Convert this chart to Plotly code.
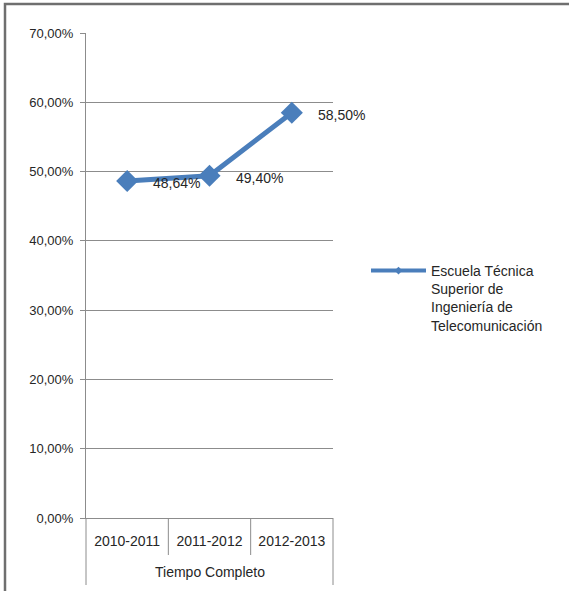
import plotly.graph_objects as go

categories = ["2010-2011", "2011-2012", "2012-2013"]
values = [0.4864, 0.4940, 0.5850]
labels = ["48,64%", "49,40%", "58,50%"]
group_label = "Tiempo Completo"
series_name = "Escuela Técnica<br>Superior de<br>Ingeniería de<br>Telecomunicación"

W, H = 569, 591
ML, MT = 86, 33
PW, PH = 247, 485
MR, MB = W - ML - PW, H - MT - PH
AX_Y = MT + PH  # x axis pixel

BLUE = "#4A7EBB"
GRID = "#8C8C8C"
TXT = "#262626"
FONT = "Liberation Sans, Arial, sans-serif"

fig = go.Figure()
fig.add_trace(go.Scatter(
    x=categories, y=values, mode="lines+markers",
    line=dict(color=BLUE, width=5),
    marker=dict(symbol="diamond", size=17, color=BLUE),
    showlegend=False, hoverinfo="skip",
))
# legend entry with small marker
fig.add_trace(go.Scatter(
    x=[categories[0]], y=[None], mode="lines+markers", name=series_name,
    line=dict(color=BLUE, width=4),
    marker=dict(symbol="diamond", size=6, color=BLUE),
))

for c, v, t in zip(categories, values, labels):
    fig.add_annotation(x=c, y=v, text=t, showarrow=False, xanchor="left",
                       xshift=24, yshift=-2, font=dict(size=14, color=TXT, family=FONT))

n = len(categories)
shapes = []
for i in range(n + 1):
    outer = i == 0 or i == n
    length = 67 if outer else 37
    shapes.append(dict(type="line", xref="paper", yref="paper",
                       x0=i / n, x1=i / n, y0=0, y1=-length / PH,
                       line=dict(color=GRID, width=1)))
# chart frame
shapes.append(dict(type="rect", xref="paper", yref="paper",
                   x0=(5 - ML) / PW, x1=(W + 20 - ML) / PW,
                   y0=-(MB + 20) / PH, y1=(AX_Y - 4) / PH,
                   line=dict(color="#6F6F6F", width=2.5)))

fig.add_annotation(xref="paper", yref="paper", x=0.5, y=-54 / PH,
                   text=group_label, showarrow=False, yanchor="middle",
                   font=dict(size=14, color=TXT, family=FONT))

fig.update_layout(
    width=W, height=H,
    margin=dict(l=ML, r=MR, t=MT, b=MB),
    paper_bgcolor="white", plot_bgcolor="white",
    separators=",.",
    font=dict(family=FONT, color=TXT),
    shapes=shapes,
    showlegend=True,
    legend=dict(x=(366 - ML) / PW, xanchor="left", y=(AX_Y - 255) / PH, yanchor="top",
                valign="top", itemwidth=55, font=dict(size=14, color=TXT, family=FONT),
                bgcolor="rgba(0,0,0,0)", tracegroupgap=0),
)
fig.update_xaxes(type="category", range=[-0.5, n - 0.5], showgrid=False,
                 showline=True, linecolor=GRID, linewidth=1, ticks="",
                 tickfont=dict(size=14, color=TXT), ticklabelstandoff=10, fixedrange=True)
fig.update_yaxes(range=[0, 0.7], dtick=0.1, tickformat=".2%", showgrid=True,
                 gridcolor=GRID, gridwidth=1, showline=True, linecolor=GRID,
                 ticks="outside", ticklen=5, tickcolor=GRID, zeroline=False,
                 tickfont=dict(size=13, color=TXT), ticklabelstandoff=4, fixedrange=True)

fig.write_html("out.html", config={"displayModeBar": False},
               post_script="document.body.style.margin='0px';document.body.style.overflow='hidden';")
